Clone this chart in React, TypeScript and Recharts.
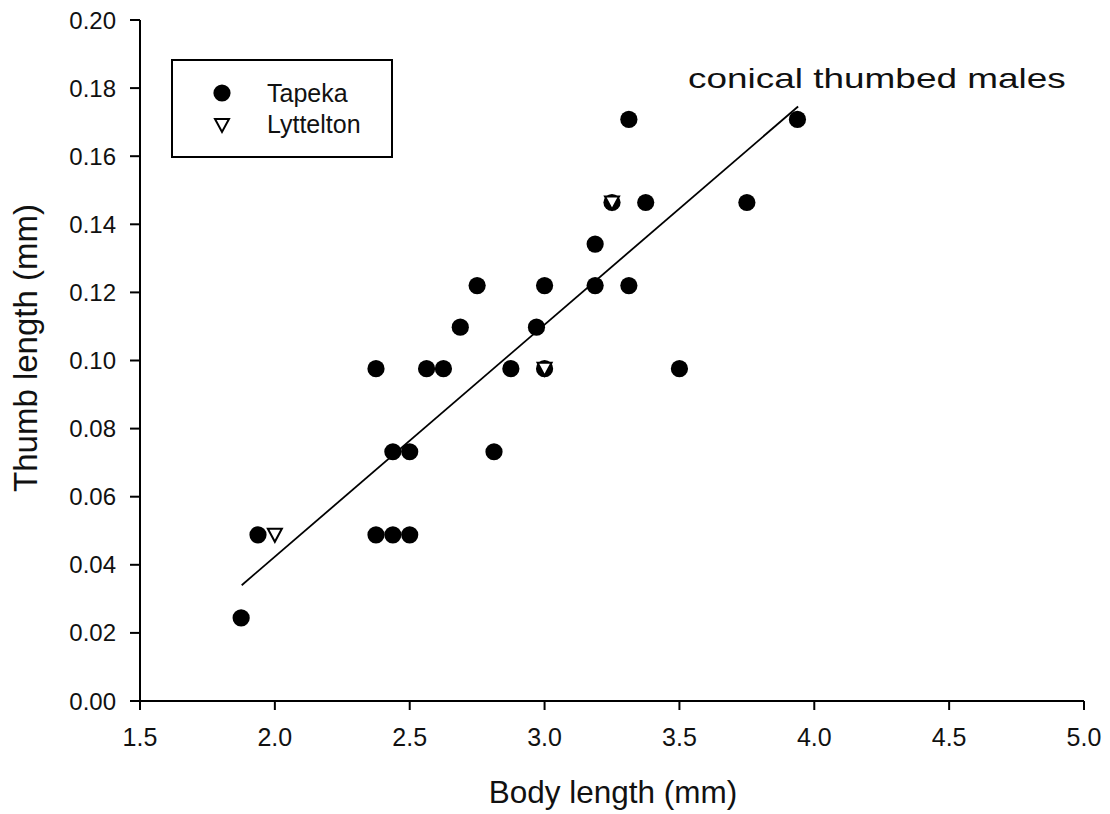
import React from 'react';
import { ScatterChart, Scatter, XAxis, YAxis } from 'recharts';

const FONT = '"Liberation Sans", Arial, sans-serif';

const tapekaBody = [1.875, 1.9375, 2.375, 2.4375, 2.5, 2.4375, 2.5, 2.8125, 2.375, 2.5625, 2.625, 2.875, 3.0, 3.5, 2.6875, 2.97, 2.75, 3.0, 3.1875, 3.3125, 3.1875, 3.25, 3.375, 3.75, 3.3125, 3.9375];
const tapekaThumb = [0.0244, 0.0488, 0.0488, 0.0488, 0.0488, 0.0732, 0.0732, 0.0732, 0.0976, 0.0976, 0.0976, 0.0976, 0.0976, 0.0976, 0.1098, 0.1098, 0.122, 0.122, 0.122, 0.122, 0.1342, 0.1464, 0.1464, 0.1464, 0.1708, 0.1708];

const lyttBody = [2.0, 3.0, 3.25];
const lyttThumb = [0.0488, 0.0976, 0.1464];

const fitBody = [1.877, 3.94];
const fitThumb = [0.034, 0.1746];

const xTicks = [1.5, 2.0, 2.5, 3.0, 3.5, 4.0, 4.5, 5.0];
const yTicks = [0, 0.02, 0.04, 0.06, 0.08, 0.1, 0.12, 0.14, 0.16, 0.18, 0.2];

const seriesNames = ['Tapeka', 'Lyttelton'];
const xTitle = 'Body length (mm)';
const yTitle = 'Thumb length (mm)';
const note = 'conical thumbed males';

const tapekaData = tapekaBody.map((x, i) => ({ x, y: tapekaThumb[i] }));
const lyttData = lyttBody.map((x, i) => ({ x, y: lyttThumb[i] }));
const fitData = fitBody.map((x, i) => ({ x, y: fitThumb[i] }));

const Dot = (props: any) => {
  const { cx, cy } = props;
  if (cx == null || cy == null) return null;
  return <circle cx={cx} cy={cy} r={8.6} fill="#000" />;
};

const Tri = (props: any) => {
  const { cx, cy } = props;
  if (cx == null || cy == null) return null;
  const w = 7;
  return (
    <path
      d={`M${cx - w},${cy - 6} L${cx + w},${cy - 6} L${cx},${cy + 7} Z`}
      fill="#fff"
      stroke="#000"
      strokeWidth={2}
      strokeLinejoin="miter"
    />
  );
};

const NoShape = () => null;

export default function App() {
  return (
    <div style={{ position: 'absolute', left: 0, top: 0, width: 1110, height: 814, background: '#fff' }}>
      <ScatterChart width={1110} height={814} margin={{ top: 20, right: 26, bottom: 0, left: 0 }}>
        <XAxis
          type="number"
          dataKey="x"
          domain={[1.5, 5.0]}
          ticks={xTicks}
          tickFormatter={(v: number) => v.toFixed(1)}
          allowDataOverflow
          height={113}
          tickSize={9}
          tickMargin={18}
          axisLine={{ stroke: '#000', strokeWidth: 2 }}
          tickLine={{ stroke: '#000', strokeWidth: 2 }}
          tick={{ fill: '#111', fontSize: 25, fontFamily: FONT }}
          label={{
            content: () => (
              <text x={613} y={803} textAnchor="middle" fontSize={31.5} fontFamily={FONT} fill="#111">
                {xTitle}
              </text>
            ),
          }}
        />
        <YAxis
          type="number"
          dataKey="y"
          domain={[0, 0.2]}
          ticks={yTicks}
          tickFormatter={(v: number) => v.toFixed(2)}
          allowDataOverflow
          width={140}
          tickSize={10}
          tickMargin={14}
          axisLine={{ stroke: '#000', strokeWidth: 2 }}
          tickLine={{ stroke: '#000', strokeWidth: 2 }}
          tick={{ fill: '#111', fontSize: 24, fontFamily: FONT }}
          label={{
            content: () => (
              <text
                x={37}
                y={348}
                transform="rotate(-90 37 348)"
                textAnchor="middle"
                fontSize={33}
                fontFamily={FONT}
                fill="#111"
              >
                {yTitle}
              </text>
            ),
          }}
        />
        <Scatter
          name="fit"
          data={fitData}
          line={{ stroke: '#000', strokeWidth: 1.8 }}
          shape={NoShape}
          legendType="none"
          isAnimationActive={false}
        />
        <Scatter name={seriesNames[0]} data={tapekaData} shape={Dot} isAnimationActive={false} />
        <Scatter name={seriesNames[1]} data={lyttData} shape={Tri} isAnimationActive={false} />
      </ScatterChart>
      <svg
        width={1110}
        height={814}
        style={{ position: 'absolute', left: 0, top: 0, pointerEvents: 'none' }}
      >
        <rect x={172} y={60} width={220} height={97} fill="#fff" stroke="#000" strokeWidth={2} />
        <circle cx={222} cy={93} r={8.6} fill="#000" />
        <text x={267} y={102} fontSize={25} fontFamily={FONT} fill="#111">
          {seriesNames[0]}
        </text>
        <path d="M215,119 L229,119 L222,132 Z" fill="#fff" stroke="#000" strokeWidth={2} />
        <text x={267} y={133} fontSize={25} fontFamily={FONT} fill="#111">
          {seriesNames[1]}
        </text>
        <g transform="translate(688 88) scale(1.32 1)">
          <text x={0} y={0} fontSize={28} fontFamily={FONT} fill="#111">
            {note}
          </text>
        </g>
      </svg>
    </div>
  );
}
